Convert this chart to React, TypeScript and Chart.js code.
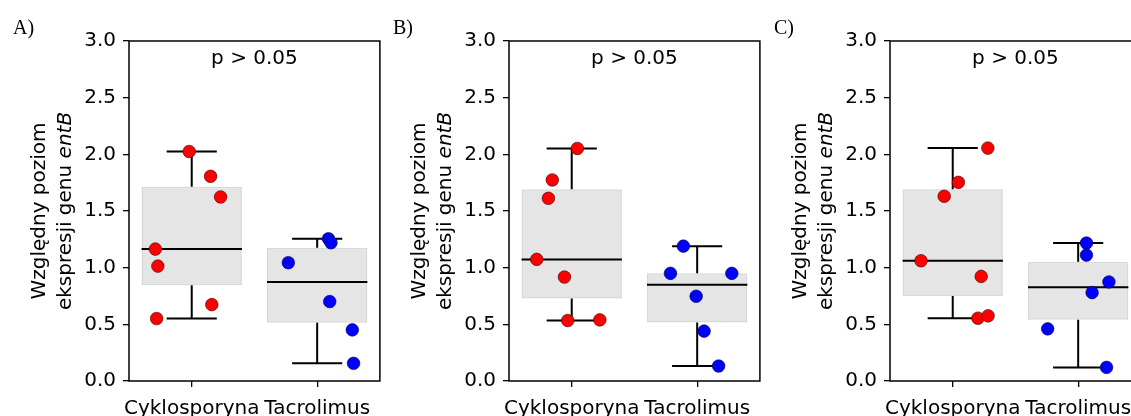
import React, { useEffect, useRef } from 'react';
import { Chart, registerables } from 'chart.js';

Chart.register(...registerables);

// ---------- data ----------
const categories = ['Cyklosporyna', 'Tacrolimus'];
const yTickValues = [0, 0.5, 1, 1.5, 2, 2.5, 3];
const yTitleLine1 = 'Względny poziom';
const yTitleLine2Plain = 'ekspresji genu ';
const yTitleLine2Italic = 'entB';
const pValueText = 'p > 0.05';

// Panel A
const aCykValues = [2.025, 1.806, 1.624, 1.164, 1.014, 0.674, 0.551];
const aCykJitter = [-0.02, 0.15, 0.23, -0.29, -0.27, 0.16, -0.28];
const aTacValues = [1.255, 1.22, 1.044, 0.701, 0.451, 0.156];
const aTacJitter = [0.09, 0.11, -0.23, 0.1, 0.28, 0.29];

// Panel B
const bCykValues = [2.052, 1.774, 1.612, 1.073, 0.917, 0.534, 0.539];
const bCykJitter = [0.045, -0.155, -0.186, -0.279, -0.058, -0.032, 0.224];
const bTacValues = [1.19, 0.95, 0.95, 0.748, 0.44, 0.132];
const bTacJitter = [-0.11, -0.213, 0.276, -0.008, 0.055, 0.171];

// Panel C
const cCykValues = [2.055, 1.753, 1.63, 1.061, 0.923, 0.554, 0.575];
const cCykJitter = [0.28, 0.045, -0.068, -0.253, 0.227, 0.201, 0.282];
const cTacValues = [1.217, 1.111, 0.874, 0.78, 0.46, 0.12];
const cTacJitter = [0.066, 0.066, 0.245, 0.111, -0.243, 0.226];

const panelLabels = ['A)', 'B)', 'C)'];

// ---------- styling constants ----------
const FONT = '"DejaVu Sans", sans-serif';
const BOX_HALF = 0.4;
const CAP_HALF = 0.2;
const PLOT_LEFT = 129;
const PLOT_WIDTH = 252;
const RIGHT_PAD = 6;
const CANVAS_W = PLOT_LEFT + PLOT_WIDTH + RIGHT_PAD;
const CANVAS_H = 440;

function quantile(sorted: number[], q: number) {
  const pos = (sorted.length - 1) * q;
  const lo = Math.floor(pos);
  const hi = Math.ceil(pos);
  return sorted[lo] + (sorted[hi] - sorted[lo]) * (pos - lo);
}

function boxStats(vals: number[]) {
  const s = [...vals].sort((a, b) => a - b);
  const q1 = quantile(s, 0.25);
  const med = quantile(s, 0.5);
  const q3 = quantile(s, 0.75);
  const iqr = q3 - q1;
  const lo = Math.min(...s.filter((v) => v >= q1 - 1.5 * iqr));
  const hi = Math.max(...s.filter((v) => v <= q3 + 1.5 * iqr));
  return { q1, med, q3, lo, hi };
}

const gap = () => ({ x: null as any, y: null as any });

interface PanelProps {
  label: string;
  left: number;
  cyk: number[];
  cykJit: number[];
  tac: number[];
  tacJit: number[];
}

function Panel({ label, left, cyk, cykJit, tac, tacJit }: PanelProps) {
  const ref = useRef<HTMLCanvasElement | null>(null);

  useEffect(() => {
    if (!ref.current) return;
    const stats = [boxStats(cyk), boxStats(tac)];

    const boxData = stats.map((s, i) => ({ x: i + 1, y: [s.q1, s.q3] }));
    const medianData: any[] = [];
    const whiskerData: any[] = [];
    stats.forEach((s, i) => {
      const c = i + 1;
      medianData.push({ x: c - BOX_HALF, y: s.med }, { x: c + BOX_HALF, y: s.med }, gap());
      whiskerData.push(
        { x: c, y: s.q1 }, { x: c, y: s.lo }, gap(),
        { x: c, y: s.q3 }, { x: c, y: s.hi }, gap(),
        { x: c - CAP_HALF, y: s.lo }, { x: c + CAP_HALF, y: s.lo }, gap(),
        { x: c - CAP_HALF, y: s.hi }, { x: c + CAP_HALF, y: s.hi }, gap()
      );
    });
    const cykPoints = cyk.map((v, i) => ({ x: 1 + cykJit[i], y: v }));
    const tacPoints = tac.map((v, i) => ({ x: 2 + tacJit[i], y: v }));

    const decorPlugin = {
      id: 'decor' + label,
      afterDraw(chart: any) {
        const { ctx, chartArea, scales } = chart;
        const { left: l, right: r, top: t, bottom: b } = chartArea;
        ctx.save();
        // spines
        ctx.strokeStyle = '#000';
        ctx.lineWidth = 1.5;
        ctx.strokeRect(l, t, r - l, b - t);
        // p-value annotation
        ctx.fillStyle = '#000';
        ctx.font = `20px ${FONT}`;
        ctx.textAlign = 'center';
        ctx.textBaseline = 'alphabetic';
        ctx.fillText(pValueText, scales.x.getPixelForValue(1.5), scales.y.getPixelForValue(2.8));
        // panel label
        ctx.font = '20px "Liberation Serif", "Times New Roman", serif';
        ctx.textAlign = 'left';
        ctx.fillText(label, l - 116, 34);
        // y title (rotated, with italic part)
        const cy = (t + b) / 2;
        ctx.translate(0, cy);
        ctx.rotate(-Math.PI / 2);
        ctx.textAlign = 'left';
        ctx.font = `20px ${FONT}`;
        const w1 = ctx.measureText(yTitleLine1).width;
        ctx.fillText(yTitleLine1, -w1 / 2, l - 84.5);
        const wPlain = ctx.measureText(yTitleLine2Plain).width;
        ctx.font = `italic 20px ${FONT}`;
        const wItal = ctx.measureText(yTitleLine2Italic).width;
        const start = -(wPlain + wItal) / 2;
        ctx.font = `20px ${FONT}`;
        ctx.fillText(yTitleLine2Plain, start, l - 58.5);
        ctx.font = `italic 20px ${FONT}`;
        ctx.fillText(yTitleLine2Italic, start + wPlain, l - 58.5);
        ctx.restore();
      },
    };

    const chart = new Chart(ref.current, {
      type: 'scatter',
      data: {
        datasets: [
          {
            type: 'scatter',
            data: cykPoints,
            backgroundColor: '#ff0000',
            borderColor: 'rgba(60,0,0,0.75)',
            borderWidth: 0.8,
            pointRadius: 6.3,
            order: 0,
          },
          {
            type: 'scatter',
            data: tacPoints,
            backgroundColor: '#0000ff',
            borderColor: 'rgba(0,0,60,0.75)',
            borderWidth: 0.8,
            pointRadius: 6.3,
            order: 0,
          },
          {
            type: 'line',
            data: medianData,
            borderColor: '#000',
            borderWidth: 2,
            pointRadius: 0,
            spanGaps: false,
            fill: false,
            order: 1,
          },
          {
            type: 'line',
            data: whiskerData,
            borderColor: '#000',
            borderWidth: 2,
            pointRadius: 0,
            spanGaps: false,
            fill: false,
            order: 1,
          },
          {
            type: 'bar',
            data: boxData as any,
            backgroundColor: 'rgba(211,211,211,0.6)',
            borderColor: 'rgba(200,200,200,0.7)',
            borderWidth: 1.5,
            borderSkipped: false,
            categoryPercentage: 1,
            barPercentage: 2 * BOX_HALF,
            order: 2,
          } as any,
        ],
      },
      options: {
        responsive: false,
        animation: false,
        events: [],
        layout: { padding: { top: 41, right: RIGHT_PAD, left: 0, bottom: 0 } },
        plugins: { legend: { display: false }, tooltip: { enabled: false }, title: { display: false } },
        scales: {
          x: {
            type: 'linear',
            min: 0.5,
            max: 2.5,
            offset: false,
            border: { display: false },
            grid: {
              display: true,
              offset: false,
              drawOnChartArea: false,
              drawTicks: true,
              tickLength: 6,
              color: '#000',
              lineWidth: 1.3,
            },
            afterBuildTicks: (s: any) => {
              s.ticks = categories.map((_, i) => ({ value: i + 1 }));
            },
            afterFit: (s: any) => {
              s.height = CANVAS_H - 381;
            },
            ticks: {
              autoSkip: false,
              maxRotation: 0,
              minRotation: 0,
              padding: 10,
              color: '#000',
              font: { family: FONT, size: 20 },
              callback: (v: any) => categories[Math.round(Number(v)) - 1],
            },
          },
          y: {
            type: 'linear',
            min: 0,
            max: 3,
            border: { display: false },
            grid: {
              display: true,
              offset: false,
              drawOnChartArea: false,
              drawTicks: true,
              tickLength: 6,
              color: '#000',
              lineWidth: 1.3,
            },
            afterBuildTicks: (s: any) => {
              s.ticks = yTickValues.map((v) => ({ value: v }));
            },
            afterFit: (s: any) => {
              s.width = PLOT_LEFT;
            },
            ticks: {
              padding: 7,
              color: '#000',
              font: { family: FONT, size: 20 },
              callback: (v: any) => Number(v).toFixed(1),
            },
          },
        },
      },
      plugins: [decorPlugin],
    } as any);

    return () => chart.destroy();
  }, [label, cyk, cykJit, tac, tacJit]);

  return (
    <canvas
      ref={ref}
      width={CANVAS_W}
      height={CANVAS_H}
      style={{ position: 'absolute', left, top: 0, display: 'block' }}
    />
  );
}

const panels: PanelProps[] = [
  { label: panelLabels[0], left: 0, cyk: aCykValues, cykJit: aCykJitter, tac: aTacValues, tacJit: aTacJitter },
  { label: panelLabels[1], left: 380, cyk: bCykValues, cykJit: bCykJitter, tac: bTacValues, tacJit: bTacJitter },
  { label: panelLabels[2], left: 761, cyk: cCykValues, cykJit: cCykJitter, tac: cTacValues, tacJit: cTacJitter },
];

export default function App() {
  return (
    <div
      style={{
        position: 'fixed',
        left: 0,
        top: 0,
        width: 1131,
        height: 416,
        overflow: 'hidden',
        background: '#fff',
      }}
    >
      {panels.map((p) => (
        <Panel key={p.label} {...p} />
      ))}
    </div>
  );
}
